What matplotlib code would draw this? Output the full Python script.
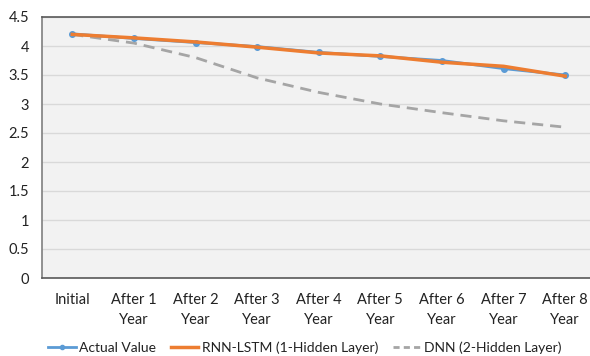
import matplotlib
matplotlib.use("Agg")
import matplotlib.pyplot as plt
from matplotlib.lines import Line2D

categories = ["Initial", "After 1\nYear", "After 2\nYear", "After 3\nYear", "After 4\nYear",
              "After 5\nYear", "After 6\nYear", "After 7\nYear", "After 8\nYear"]
actual = [4.21, 4.13, 4.06, 3.99, 3.89, 3.82, 3.75, 3.61, 3.50]
lstm = [4.20, 4.14, 4.07, 3.98, 3.88, 3.83, 3.72, 3.65, 3.48]
dnn = [4.20, 4.05, 3.80, 3.45, 3.20, 3.00, 2.85, 2.71, 2.60]
yticks = [0, 0.5, 1, 1.5, 2, 2.5, 3, 3.5, 4, 4.5]
ytick_labels = ["0", "0.5", "1", "1.5", "2", "2.5", "3", "3.5", "4", "4.5"]

plt.rcParams['font.family'] = ['Lato', 'DejaVu Sans']

fig = plt.figure(figsize=(5.9, 3.56), dpi=100)
W, H = 590, 356
left, right, top, bottom = 41.5, 596, 17, 278
ax = fig.add_axes([left / W, 1 - bottom / H, (right - left) / W, (bottom - top) / H])
ax.set_facecolor("#f2f2f2")

x = list(range(len(categories)))
ax.plot(x, dnn, color="#a5a5a5", lw=2, ls=(0, (4, 2.5)), zorder=2)
ax.plot(x, actual, color="#5b9bd5", lw=2, marker="o", ms=4, zorder=3)
ax.plot(x, lstm, color="#ed7d31", lw=2.5, zorder=4)

ax.set_xlim(-0.5, len(categories) - 0.5)
ax.set_ylim(0, 4.5)
ax.set_yticks(yticks)
ax.set_yticklabels(ytick_labels)
ax.set_xticks(x)
ax.set_xticklabels(categories, linespacing=1.5)
ax.tick_params(axis="both", length=0, labelsize=10.5, colors="#222222")
ax.tick_params(axis="y", pad=9)
ax.tick_params(axis="x", pad=11)

ax.grid(axis="y", color="#d9d9d9", lw=1)
ax.set_axisbelow(True)
for side in ["top", "bottom"]:
    ax.spines[side].set_color("#595959")
    ax.spines[side].set_linewidth(1.2)
ax.spines["left"].set_color("#7f7f7f")
ax.spines["left"].set_linewidth(1.2)
ax.spines["right"].set_visible(False)

handles = [
    Line2D([], [], color="#5b9bd5", lw=2, marker="o", ms=3),
    Line2D([], [], color="#ed7d31", lw=2.5),
    Line2D([], [], color="#a5a5a5", lw=2, ls=(0, (2.2, 1.5))),
]
labels = ["Actual Value", "RNN-LSTM (1-Hidden Layer)", "DNN (2-Hidden Layer)"]
fig.legend(handles, labels, loc="center", bbox_to_anchor=(305 / W, 1 - 348 / H),
           ncol=3, frameon=False, fontsize=10, handlelength=1.95, handletextpad=0.25,
           columnspacing=1.1, labelcolor="#222222")

fig.savefig("out.png", dpi=100)
